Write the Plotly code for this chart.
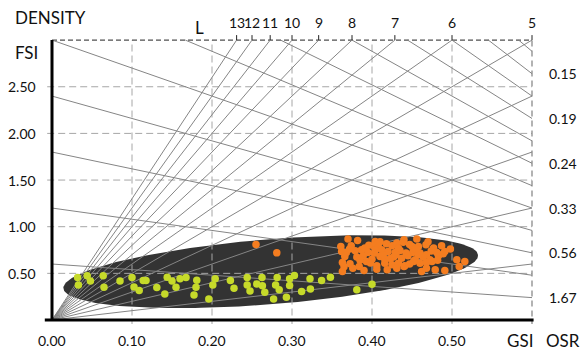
import numpy as np
import plotly.graph_objects as go

# ---------------- data ----------------
gsi_ticks = [0.0, 0.1, 0.2, 0.3, 0.4, 0.5]
gsi_tick_labels = ["0.00", "0.10", "0.20", "0.30", "0.40", "0.50"]
fsi_ticks = [0.5, 1.0, 1.5, 2.0, 2.5]
fsi_tick_labels = ["0.50", "1.00", "1.50", "2.00", "2.50"]

GSI_MAX = 0.6
FSI_MAX = 3.0

# density (L) lines: FSI = L * GSI
density_L = [13, 12, 11, 10, 9, 8, 7, 6, 5, 4, 3, 2, 1]
density_labelled = [13, 12, 11, 10, 9, 8, 7, 6, 5]

# OSR lines: FSI = F0 * (1 - GSI), F0 = FSI at GSI = 0
osr_fsi0 = [0.6, 1.2, 1.8, 2.4, 3.0, 3.6, 4.2, 4.8, 5.4, 6.0, 6.6, 7.2]
osr_labelled_fsi0 = [0.6, 1.8, 3.0, 4.2, 5.4, 6.6]
osr_labels = ["1.67", "0.56", "0.33", "0.24", "0.19", "0.15"]

green_gsi = [0.032, 0.033, 0.044, 0.048, 0.064, 0.065, 0.085, 0.100, 0.1025, 0.109,
             0.114, 0.1175, 0.131, 0.141, 0.144, 0.150, 0.155, 0.160, 0.1675, 0.181,
             0.180, 0.1775, 0.196, 0.201, 0.204, 0.223, 0.2275, 0.244, 0.244, 0.2475,
             0.256, 0.2625, 0.263, 0.266, 0.277, 0.2795, 0.2815, 0.284, 0.293, 0.297,
             0.297, 0.303, 0.312, 0.3225, 0.323, 0.337, 0.348, 0.381, 0.400]
green_fsi = [0.455, 0.376, 0.473, 0.419, 0.473, 0.351, 0.419, 0.455, 0.355, 0.315,
             0.423, 0.423, 0.348, 0.280, 0.459, 0.419, 0.351, 0.441, 0.455, 0.427,
             0.351, 0.269, 0.226, 0.376, 0.441, 0.423, 0.341, 0.455, 0.376, 0.312,
             0.387, 0.455, 0.366, 0.297, 0.226, 0.376, 0.455, 0.323, 0.244, 0.369,
             0.441, 0.477, 0.305, 0.441, 0.333, 0.423, 0.459, 0.323, 0.384]

orange_gsi = [0.255, 0.281,
              0.370, 0.382, 0.404, 0.456,
              0.361, 0.374, 0.391, 0.402, 0.408, 0.418, 0.425, 0.431, 0.439, 0.450,
              0.458, 0.4675, 0.477, 0.487,
              0.362, 0.368, 0.379, 0.387, 0.395, 0.403, 0.412, 0.420, 0.429, 0.435,
              0.4425, 0.451, 0.460, 0.468, 0.481, 0.491,
              0.366, 0.381, 0.389, 0.400, 0.410, 0.416, 0.427, 0.437, 0.445, 0.454,
              0.464, 0.4725, 0.483, 0.489,
              0.363, 0.3725, 0.384, 0.393, 0.406, 0.416, 0.425, 0.433, 0.441, 0.452,
              0.460, 0.468, 0.475, 0.506, 0.516,
              0.363, 0.376, 0.390, 0.406, 0.419, 0.431, 0.440, 0.462, 0.468, 0.479,
              0.491, 0.509,
              0.372, 0.396, 0.414, 0.433, 0.447, 0.455, 0.474, 0.498, 0.423, 0.398,
              0.385, 0.447, 0.482, 0.458, 0.404, 0.430, 0.365, 0.410, 0.440, 0.470]
orange_fsi = [0.810, 0.720,
              0.868, 0.853, 0.842, 0.868,
              0.788, 0.796, 0.771, 0.796, 0.781, 0.817, 0.796, 0.824, 0.832, 0.788,
              0.788, 0.806, 0.771, 0.796,
              0.735, 0.724, 0.742, 0.753, 0.724, 0.717, 0.753, 0.735, 0.724, 0.745,
              0.717, 0.724, 0.717, 0.699, 0.724, 0.735,
              0.681, 0.674, 0.688, 0.652, 0.681, 0.652, 0.674, 0.663, 0.688, 0.645,
              0.674, 0.645, 0.688, 0.710,
              0.616, 0.602, 0.573, 0.627, 0.581, 0.609, 0.591, 0.609, 0.581, 0.627,
              0.609, 0.616, 0.627, 0.645, 0.627,
              0.520, 0.556, 0.530, 0.545, 0.538, 0.556, 0.573, 0.520, 0.556, 0.538,
              0.530, 0.573,
              0.760, 0.800, 0.700, 0.770, 0.810, 0.760, 0.740, 0.760, 0.660, 0.610,
              0.640, 0.600, 0.640, 0.700, 0.750, 0.700, 0.570, 0.840, 0.860, 0.840]

# ---------------- geometry ----------------
W, H = 582, 352
PX_X0, PX_Y0 = 52, 320         # page pixel position of the data origin
SX, SY = 800.0, 93.3           # pixels per data unit
ML, MR, MT, MB = 40, 38, 33, 28
pw, ph = W - ML - MR, H - MT - MB
xr = [(ML - PX_X0) / SX, (ML + pw - PX_X0) / SX]
yr = [(PX_Y0 - (MT + ph)) / SY, (PX_Y0 - MT) / SY]


def paper(px, py):
    """page pixel -> paper coords"""
    return (px - ML) / pw, (H - MB - py) / ph


def xpx(x):
    return PX_X0 + SX * x


def ypx(y):
    return PX_Y0 - SY * y


FONT = "Lato, 'Open Sans', sans-serif"
LINE_C = "#858585"
GRID_C = "#a6a6a6"

fig = go.Figure()

# ellipse (defined in page-pixel space, converted to data)
ecx, ecy = 270.7, 271.7
ea, eb, eang = 208.0, 32.5, np.deg2rad(4.6)
t = np.linspace(0, 2 * np.pi, 200)
ex = ea * np.cos(t) * np.cos(eang) - eb * np.sin(t) * np.sin(eang)
ey = ea * np.cos(t) * np.sin(eang) + eb * np.sin(t) * np.cos(eang)
fig.add_trace(go.Scatter(x=(ecx + ex - PX_X0) / SX, y=(PX_Y0 - (ecy - ey)) / SY,
                         mode="lines", fill="toself", fillcolor="#333333",
                         line=dict(width=0, color="#333333"), hoverinfo="skip"))

# dashed grid
for gx in gsi_ticks[1:]:
    fig.add_trace(go.Scatter(x=[gx, gx], y=[-0.07, FSI_MAX], mode="lines",
                             line=dict(color=GRID_C, width=1, dash="7px,4px"), hoverinfo="skip"))
for gy in fsi_ticks:
    fig.add_trace(go.Scatter(x=[-0.006, GSI_MAX], y=[gy, gy], mode="lines",
                             line=dict(color=GRID_C, width=1, dash="7px,4px"), hoverinfo="skip"))
fig.add_trace(go.Scatter(x=[GSI_MAX, GSI_MAX], y=[-0.07, FSI_MAX], mode="lines",
                         line=dict(color="#808080", width=1.2, dash="6px,4px"), hoverinfo="skip"))
fig.add_trace(go.Scatter(x=[0, GSI_MAX], y=[FSI_MAX, FSI_MAX], mode="lines",
                         line=dict(color="#222222", width=1, dash="5px,3px"), hoverinfo="skip"))

# density lines
for n in density_L:
    xe = min(FSI_MAX / n, GSI_MAX)
    fig.add_trace(go.Scatter(x=[0, xe], y=[0, n * xe], mode="lines",
                             line=dict(color=LINE_C, width=1), hoverinfo="skip"))
# OSR lines
for c in osr_fsi0:
    xs = max(0.0, 1 - FSI_MAX / c)
    fig.add_trace(go.Scatter(x=[xs, GSI_MAX], y=[c * (1 - xs), c * (1 - GSI_MAX)], mode="lines",
                             line=dict(color=LINE_C, width=1), hoverinfo="skip"))

# points
fig.add_trace(go.Scatter(x=green_gsi, y=green_fsi, mode="markers",
                         marker=dict(color="#c6da2a", size=7.5, line=dict(width=0))))
fig.add_trace(go.Scatter(x=orange_gsi, y=orange_fsi, mode="markers",
                         marker=dict(color="#f47d20", size=7.5, line=dict(width=0))))

shapes = []
# axes
shapes.append(dict(type="line", xref="x", yref="y", x0=0, x1=0, y0=0, y1=FSI_MAX,
                   line=dict(color="black", width=3)))
shapes.append(dict(type="line", xref="x", yref="y", x0=-0.009, x1=0.602, y0=0, y1=0,
                   line=dict(color="black", width=3)))
# top ticks at density labels
for n in density_labelled:
    xt = FSI_MAX / n
    shapes.append(dict(type="line", xref="x", yref="y", x0=xt, x1=xt, y0=FSI_MAX,
                       y1=FSI_MAX + 5 / SY, line=dict(color="#222222", width=1)))

ann = []


def add_text(px, py, text, size=14, xanchor="center"):
    ax_, ay_ = paper(px, py)
    ann.append(dict(x=ax_, y=ay_, xref="paper", yref="paper", text=text, showarrow=False,
                    xanchor=xanchor, yanchor="middle",
                    font=dict(family=FONT, size=size, color="#111111")))


for v, s in zip(gsi_ticks, gsi_tick_labels):
    add_text(xpx(v), 340, s, 14)
for v, s in zip(fsi_ticks, fsi_tick_labels):
    add_text(38, ypx(v), s, 14, "right")
for n in density_labelled:
    add_text(xpx(FSI_MAX / n), 23, str(n), 14)
for c, s in zip(osr_labelled_fsi0, osr_labels):
    add_text(547, ypx(c * (1 - GSI_MAX)), s, 14, "left")
add_text(13, 18, "DENSITY", 17, "left")
add_text(13, 52, "FSI", 17, "left")
add_text(199, 27, "L", 17)
add_text(520, 340, "GSI", 17)
add_text(563, 340, "OSR", 17)

fig.update_layout(
    width=W, height=H, autosize=False,
    margin=dict(l=ML, r=MR, t=MT, b=MB),
    paper_bgcolor="white", plot_bgcolor="white",
    showlegend=False,
    xaxis=dict(range=xr, visible=False, fixedrange=True),
    yaxis=dict(range=yr, visible=False, fixedrange=True),
    shapes=shapes, annotations=ann,
)

fig.write_html("out.html", config={"displayModeBar": False},
               post_script="document.body.style.margin='0px';document.body.style.overflow='hidden';")
